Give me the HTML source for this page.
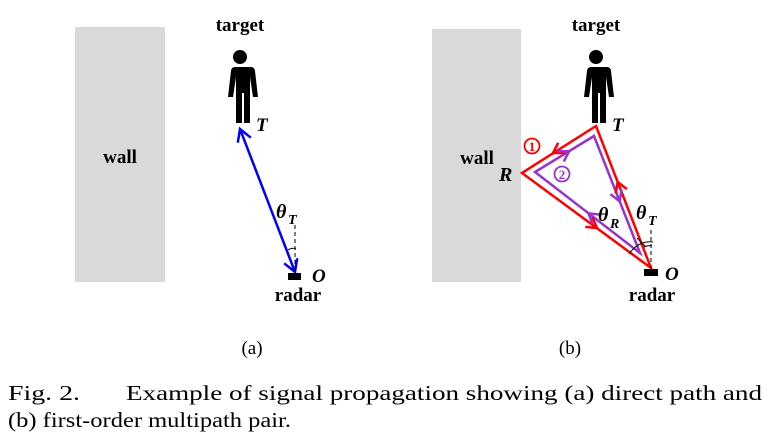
<!DOCTYPE html>
<html><head><meta charset="utf-8"><style>
html,body{margin:0;padding:0;background:#fff;width:771px;height:441px;overflow:hidden}
svg text{font-family:"Liberation Serif",serif}
</style></head><body>
<svg width="771" height="441" viewBox="0 0 771 441" xmlns="http://www.w3.org/2000/svg">
<defs>
<g id="person">
<circle cx="0" cy="-67" r="7"/>
<path d="M-11,-57 h22 a4,4 0 0 1 4,4 l3,26 h-5 l-3,-20 v46 h-6 v-30 h-2 v30 h-6 v-46 l-3,20 h-5 l3,-26 a4,4 0 0 1 4,-4z"/>
</g>
</defs>
<!-- (a) -->
<rect x="75" y="27" width="90" height="255" fill="#d9d9d9"/>
<text x="120" y="163" font-size="19" font-weight="bold" text-anchor="middle">wall</text>
<text x="240" y="31" font-size="19" font-weight="bold" text-anchor="middle">target</text>
<use href="#person" x="240" y="124"/>
<text x="256" y="131" font-size="19" font-weight="bold" font-style="italic">T</text>
<line x1="240" y1="129" x2="295" y2="272" stroke="#0000ff" stroke-width="2.5"/>
<polyline points="237.8,142.7 240,129 250.8,137.7" fill="none" stroke="#0000ff" stroke-width="2.5"/>
<polyline points="284.2,263.3 295,272 297.2,258.3" fill="none" stroke="#0000ff" stroke-width="2.5"/>
<line x1="295" y1="225" x2="295" y2="272" stroke="#000" stroke-width="1" stroke-dasharray="4,3"/>
<path d="M288,250 q4,-3 8,-1" fill="none" stroke="#000" stroke-width="1"/>
<rect x="288" y="273" width="13" height="7" fill="#000"/>
<text x="312" y="282" font-size="19" font-weight="bold" font-style="italic">O</text>
<text x="298" y="301" font-size="19" font-weight="bold" text-anchor="middle">radar</text>
<text x="276" y="218" font-size="20" font-weight="bold" font-style="italic">θ</text>
<text x="288" y="224" font-size="14" font-weight="bold" font-style="italic">T</text>
<text x="252" y="354" font-size="19" text-anchor="middle">(a)</text>
<!-- (b) -->
<rect x="432" y="29" width="89" height="253" fill="#d9d9d9"/>
<text x="477" y="164" font-size="19" font-weight="bold" text-anchor="middle">wall</text>
<text x="499" y="181" font-size="20" font-weight="bold" font-style="italic">R</text>
<text x="596" y="31" font-size="19" font-weight="bold" text-anchor="middle">target</text>
<use href="#person" x="596" y="124"/>
<text x="612" y="131" font-size="19" font-weight="bold" font-style="italic">T</text>
<polygon points="596,126 522,173 651,268" fill="none" stroke="#ff0000" stroke-width="2.5"/>
<polygon points="594,136 535,172 640,253" fill="none" stroke="#9933cc" stroke-width="2.5"/>
<polyline points="564.6,153 553,153 558.2,142.8" fill="none" stroke="#ff0000" stroke-width="2.5"/>
<polyline points="585.3,226.9 597,228 592.5,217.3" fill="none" stroke="#ff0000" stroke-width="2.5"/>
<polyline points="626.9,189.1 617.7,182 615.7,193.5" fill="none" stroke="#ff0000" stroke-width="2.5"/>
<polyline points="563.8,161.5 569.2,151.2 557.6,151.3" fill="none" stroke="#9933cc" stroke-width="2.5"/>
<polyline points="610.4,194.1 619.6,201.2 621.6,189.7" fill="none" stroke="#9933cc" stroke-width="2.5"/>
<polyline points="600.1,214.6 588.5,213.3 592.7,224.2" fill="none" stroke="#9933cc" stroke-width="2.5"/>
<circle cx="532" cy="146" r="7.5" fill="none" stroke="#ff0000" stroke-width="1.8"/>
<text x="532" y="151" font-size="13" font-weight="bold" fill="#ff0000" text-anchor="middle">1</text>
<circle cx="562" cy="174" r="7.5" fill="none" stroke="#9933cc" stroke-width="1.8"/>
<text x="562" y="179" font-size="13" font-weight="bold" fill="#9933cc" text-anchor="middle">2</text>
<line x1="651" y1="230" x2="651" y2="268" stroke="#000" stroke-width="1" stroke-dasharray="4,3"/>
<path d="M629,254 q10,-14 24,-12" fill="none" stroke="#000" stroke-width="1"/>
<line x1="637" y1="238" x2="646" y2="247" stroke="#000" stroke-width="1"/>
<path d="M644,247 q4,-2 8,-1" fill="none" stroke="#000" stroke-width="1"/>
<rect x="644" y="269" width="14" height="7" fill="#000"/>
<text x="665" y="280" font-size="19" font-weight="bold" font-style="italic">O</text>
<text x="652" y="301" font-size="19" font-weight="bold" text-anchor="middle">radar</text>
<text x="598" y="221" font-size="20" font-weight="bold" font-style="italic">θ</text>
<text x="610" y="228" font-size="14" font-weight="bold" font-style="italic">R</text>
<text x="636" y="219" font-size="20" font-weight="bold" font-style="italic">θ</text>
<text x="648" y="225" font-size="14" font-weight="bold" font-style="italic">T</text>
<text x="570" y="354" font-size="19" text-anchor="middle">(b)</text>
<!-- caption -->
<text x="8" y="400" font-size="21" textLength="72" lengthAdjust="spacingAndGlyphs">Fig. 2.</text>
<text x="126" y="400" font-size="21" textLength="636" lengthAdjust="spacingAndGlyphs">Example of signal propagation showing (a) direct path and</text>
<text x="8" y="427" font-size="21" textLength="283" lengthAdjust="spacingAndGlyphs">(b) first-order multipath pair.</text>
</svg>
</body></html>
